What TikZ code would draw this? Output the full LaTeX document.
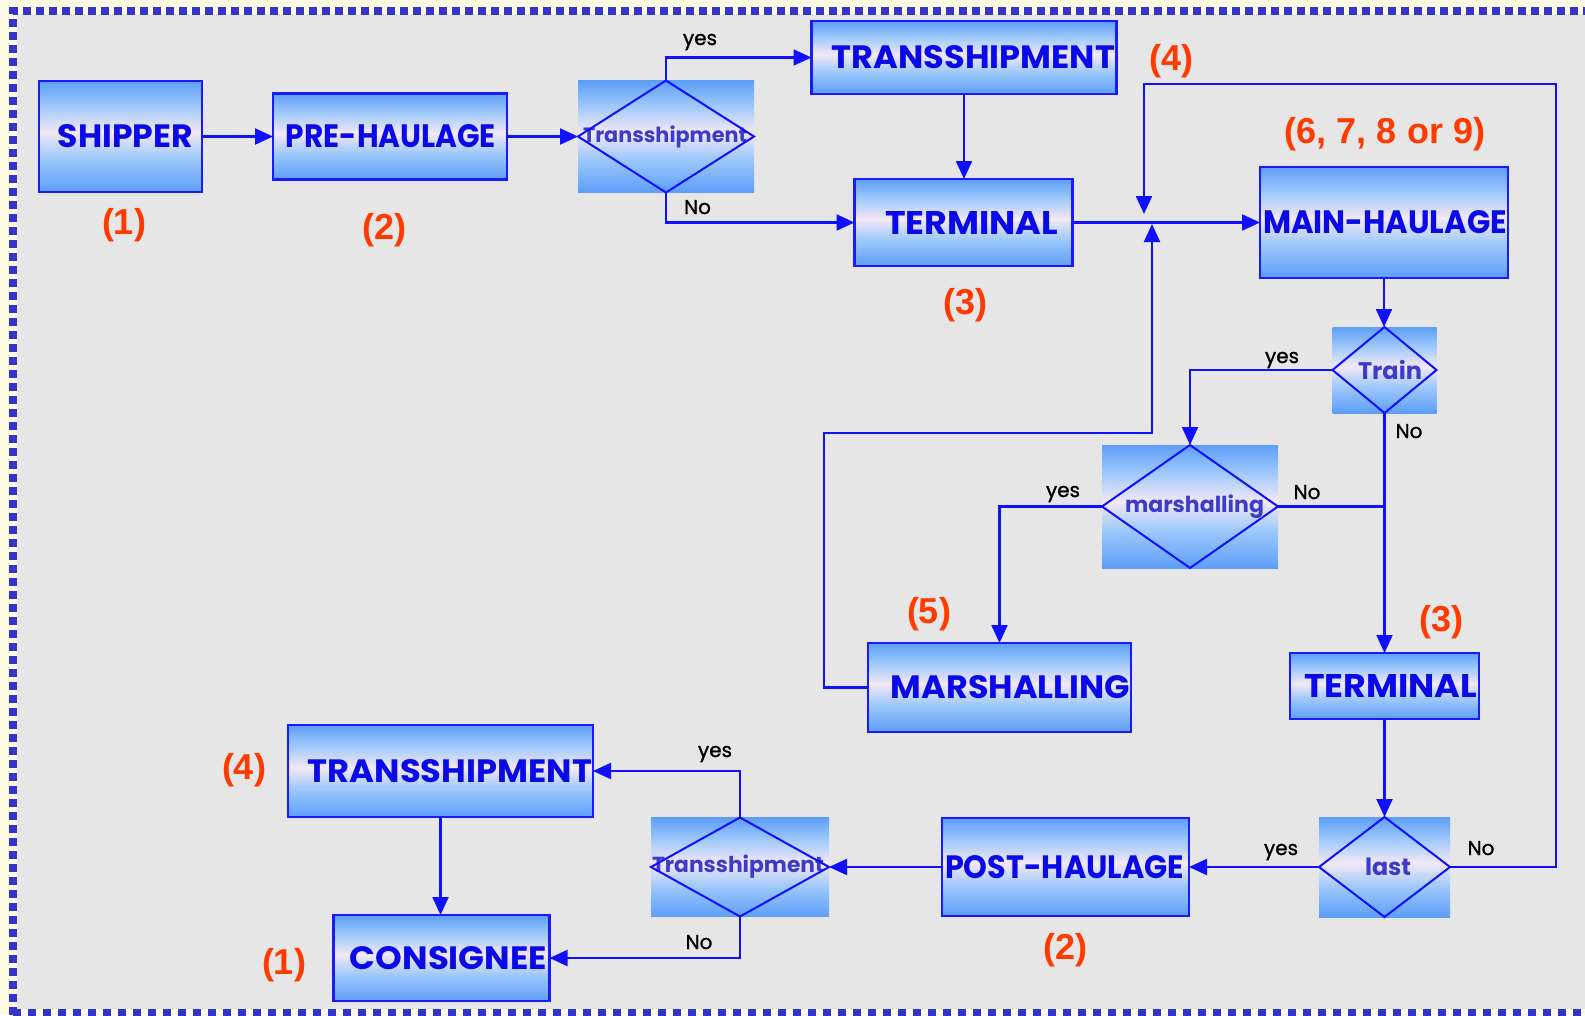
\documentclass[tikz,border=0pt]{standalone}
\usepackage{fontspec}
\usepackage{graphicx}
\usetikzlibrary{arrows.meta}
\newfontfamily\boxfont{Poppins}
\newfontfamily\ynfont{Poppins}[FakeBold=1.2]
\newfontfamily\numfont{Liberation Sans}
\definecolor{cream}{HTML}{FCFAE0}
\definecolor{paper}{HTML}{E6E6E6}
\definecolor{bord}{HTML}{3434CC}
\definecolor{gA}{HTML}{5E9EF9}
\definecolor{gB}{HTML}{9CC8FB}
\definecolor{gC}{HTML}{F3E8F6}
\definecolor{boxline}{HTML}{1A1AFF}
\definecolor{conncol}{HTML}{1010FF}
\definecolor{boxtext}{HTML}{0A0AE8}
\definecolor{diatext}{HTML}{3C3CC8}
\definecolor{numred}{HTML}{FF3A00}
\pgfdeclareverticalshading{boxgrad}{100bp}{color(0bp)=(gA); color(25bp)=(gA); color(40bp)=(gB); color(52bp)=(gC); color(64bp)=(gB); color(75bp)=(gA); color(100bp)=(gA)}
\newcommand\blab[3]{\hspace*{#1}\resizebox{#2}{23pt}{\bfseries #3}}
\newcommand\dlab[3]{\hspace*{#1}\resizebox{#2}{!}{\bfseries #3}}
\begin{document}
\begin{tikzpicture}[x=1pt,y=-1pt,
  box/.style={rectangle, draw=boxline, line width=2.4pt, shade, shading=boxgrad, inner sep=0pt, outer sep=0pt, text=boxtext, font=\boxfont},
  dbox/.style={rectangle, shade, shading=boxgrad, inner sep=0pt, outer sep=0pt, text=diatext, font=\boxfont},
  dia/.style={draw=conncol, line width=2pt, line join=miter},
  conn/.style={draw=conncol, line width=2.2pt},
  arr/.style={conn, -{Triangle[length=18pt,width=16pt]}},
  num/.style={text=numred, font=\numfont\bfseries\fontsize{36}{40}\selectfont, inner sep=0pt},
  yn/.style={text=black, font=\ynfont\fontsize{20}{24}\selectfont, inner sep=0pt, anchor=base}]
\useasboundingbox (0,0) rectangle (1585,1015);
\fill[cream] (0,0) rectangle (1585,1015);
\fill[paper] (17,14) rectangle (1585,1009);
\draw[bord, line width=8pt, dash pattern=on 8pt off 5pt] (13,1015) -- (13,11) -- (1585,11);
\draw[bord, line width=7pt, dash pattern=on 8pt off 7pt] (13,1012.5) -- (1585,1012.5);

% boxes
\node[box, minimum width=163pt, minimum height=111pt] (shipper) at (120.5,136.5) {\blab{10pt}{135pt}{SHIPPER}};
\node[box, minimum width=234pt, minimum height=86pt] (pre) at (390,136.5) {\blab{2pt}{210pt}{PRE-HAULAGE}};
\node[box, minimum width=305pt, minimum height=73pt] (trans1) at (964,57.5) {\blab{19pt}{283pt}{TRANSSHIPMENT}};
\node[box, minimum width=218pt, minimum height=87pt] (term1) at (963.5,222.5) {\blab{16pt}{173pt}{TERMINAL}};
\node[box, minimum width=248pt, minimum height=111pt] (main) at (1384,222.5) {\blab{2pt}{244pt}{MAIN-HAULAGE}};
\node[box, minimum width=263pt, minimum height=89pt] (marsh) at (999.5,687.5) {\blab{22pt}{239pt}{MARSHALLING}};
\node[box, minimum width=189pt, minimum height=66pt] (term2) at (1384.5,686) {\blab{12pt}{173pt}{TERMINAL}};
\node[box, minimum width=247pt, minimum height=98pt] (post) at (1065.5,867) {\blab{-2pt}{239pt}{POST-HAULAGE}};
\node[box, minimum width=305pt, minimum height=92pt] (trans2) at (440.5,771) {\blab{19pt}{284pt}{TRANSSHIPMENT}};
\node[box, minimum width=216pt, minimum height=86pt] (cons) at (441.5,958) {\blab{14pt}{197pt}{CONSIGNEE}};

% decision nodes
\node[dbox, minimum width=176pt, minimum height=112pt] (d1) at (666,136.5) {\dlab{-2pt}{164pt}{Transshipment}};
\node[dbox, minimum width=104pt, minimum height=86pt] (train) at (1384.5,370) {\dlab{11pt}{64pt}{Train}};
\node[dbox, minimum width=176pt, minimum height=123pt] (md) at (1190,506.5) {\dlab{9pt}{139pt}{marshalling}};
\node[dbox, minimum width=131pt, minimum height=100pt] (last) at (1384.5,867) {\dlab{7pt}{46pt}{last}};
\node[dbox, minimum width=178pt, minimum height=99pt] (d2) at (740,867) {\dlab{-4pt}{172pt}{Transshipment}};
\foreach \d in {d1,train,md,last,d2}
  \draw[dia] (\d.north) -- (\d.east) -- (\d.south) -- (\d.west) -- cycle;

% connectors
\coordinate (loopR) at (1556,84);
\coordinate (loopL) at (1144,84);
\coordinate (mergeA) at (1144,214);
\coordinate (mloop) at (824,433);
\coordinate (mergeB) at (1152,224);
\draw[arr] (shipper.east) -- (pre.west);
\draw[arr] (pre.east) -- (d1.west);
\draw[arr] (d1.north) |- (trans1.west);
\draw[arr] (d1.south) |- (term1.west);
\draw[arr] (trans1.south) -- (trans1.south |- term1.north);
\draw[arr] (term1.east) -- (main.west);
\draw[arr] (last.east) -| (loopR) -- (loopL) -- (mergeA);
\draw[arr] (marsh.west) -| (mloop) -| (mergeB);
\draw[arr] (main.south) -- (main.south |- train.north);
\draw[arr] (train.west) -| (md.north);
\draw[arr] (train.south) -- (train.south |- term2.north);
\draw[conn] (md.east) -- (md.east -| train.south);
\draw[arr] (md.west) -| (marsh.north);
\draw[arr] (term2.south) -- (last.north);
\draw[arr] (last.west) -- (post.east);
\draw[arr] (post.west) -- (d2.east);
\draw[arr] (d2.north) |- (trans2.east);
\draw[arr] (d2.south) |- (cons.east);
\draw[arr] (trans2.south) -- (trans2.south |- cons.north);

% numbers
\node[num] (p1a) at (124,225) {(1)};
\node[num] (p2a) at (384.5,230) {(2)};
\node[num] (p3a) at (965,305) {(3)};
\node[num] (p4a) at (1171,61) {(4)};
\node[num] (p6) at (1385,134) {(6, 7, 8 or 9)};
\node[num] (p5) at (929,614.5) {(5)};
\node[num] (p3b) at (1441,622.5) {(3)};
\node[num] (p4b) at (244,770) {(4)};
\node[num] (p1b) at (284,965) {(1)};
\node[num] (p2b) at (1065,950) {(2)};

% yes / No
\node[yn] (y1) at (700,45) {yes};
\node[yn] (o1) at (697.5,214) {No};
\node[yn] (y2) at (1282,363) {yes};
\node[yn] (o2) at (1409,438) {No};
\node[yn] (y3) at (1063,497) {yes};
\node[yn] (o3) at (1307,499) {No};
\node[yn] (y4) at (1281,855) {yes};
\node[yn] (o4) at (1481,855) {No};
\node[yn] (y5) at (715,757) {yes};
\node[yn] (o5) at (699,949) {No};
\end{tikzpicture}
\end{document}
